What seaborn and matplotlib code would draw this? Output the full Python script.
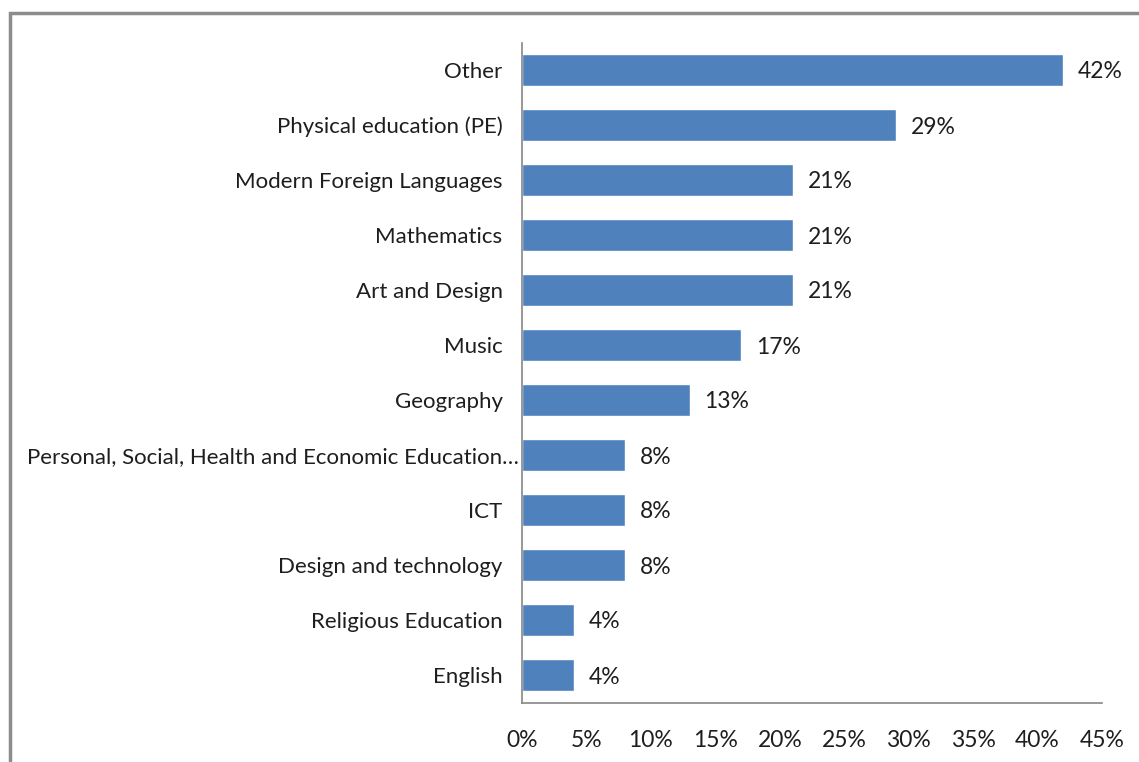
import matplotlib
matplotlib.use("Agg")
import matplotlib.pyplot as plt
import matplotlib.patches as patches
from matplotlib.transforms import ScaledTranslation
import pandas as pd
import seaborn as sns

subjects = ["Other", "Physical education (PE)", "Modern Foreign Languages",
            "Mathematics", "Art and Design", "Music", "Geography",
            "Personal, Social, Health and Economic Education\u2026", "ICT",
            "Design and technology", "Religious Education", "English"]
shares = [42, 29, 21, 21, 21, 17, 13, 8, 8, 8, 4, 4]
x_ticks = [0, 5, 10, 15, 20, 25, 30, 35, 40, 45]

df = pd.DataFrame({"subject": subjects, "share": shares})

sns.set_style("white")
plt.rcParams['font.family'] = ['Lato', 'DejaVu Sans']

fig = plt.figure(figsize=(11.39, 7.62), dpi=100)
ax = fig.add_axes([522/1139, 1-702.5/762, 580/1139, 660/762])

sns.barplot(data=df, x="share", y="subject", color="#4F81BD", saturation=1,
            width=0.58, ax=ax, orient="h")

for i, v in enumerate(shares):
    ax.text(v + 1.15, i, f"{v}%", va="center_baseline", ha="left",
            fontsize=16.5, color="#1e1e1e")

ax.set_xlim(0, 45)
ax.set_xticks(x_ticks)
ax.set_xticklabels([f"{t}%" for t in x_ticks])
ax.set_xlabel("")
ax.set_ylabel("")
ax.tick_params(axis="x", length=0, labelsize=16.5, colors="#1e1e1e", pad=20)
ax.tick_params(axis="y", length=0, labelsize=16, colors="#1e1e1e", pad=14)
for lbl in ax.get_yticklabels():
    lbl.set_verticalalignment("center_baseline")
    if lbl.get_text().endswith("\u2026"):
        # the truncated label sits closer to the axis, as in the original
        lbl.set_transform(lbl.get_transform() + ScaledTranslation(0.16, 0, fig.dpi_scale_trans))
sns.despine(ax=ax, top=True, right=True)
for s in ["left", "bottom"]:
    ax.spines[s].set_color("#868686")
    ax.spines[s].set_linewidth(1.2)

# outer chart border (top and left visible)
border = patches.Rectangle((10/1139, -0.05), 1.1, 1 - 13/762 + 0.05,
                           transform=fig.transFigure, fill=False,
                           edgecolor="#8C8C8C", linewidth=2.5)
fig.patches.append(border)

fig.savefig("out.png", dpi=100)
